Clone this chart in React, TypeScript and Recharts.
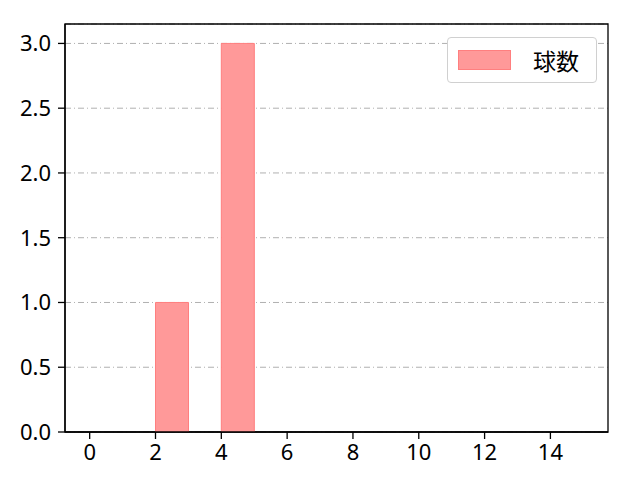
import React from "react"
import {
  ComposedChart, Bar, XAxis, YAxis, CartesianGrid, ReferenceArea,
} from "recharts"

const BIN_CENTERS = [0.5, 1.5, 2.5, 3.5, 4.5, 5.5, 6.5, 7.5, 8.5, 9.5, 10.5, 11.5, 12.5, 13.5, 14.5]
const COUNTS = [0, 0, 1, 0, 3, 0, 0, 0, 0, 0, 0, 0, 0, 0, 0]
const X_TICKS = [0, 2, 4, 6, 8, 10, 12, 14]
const Y_TICKS = [0, 0.5, 1, 1.5, 2, 2.5, 3]
const X_DOMAIN = [-0.75, 15.75]
const Y_DOMAIN = [0, 3.15]
const SERIES_NAME = "球数"

const FILL = "#ff9999"
const EDGE = "#ff7f7f"
const FONT = "'Noto Sans', 'Noto Sans CJK JP', sans-serif"

const chartData = BIN_CENTERS.map((x, i) => ({ x, count: COUNTS[i] }))

function LegendBox() {
  return (
    <div
      style={{
        position: "absolute", left: 447, top: 37,
        display: "flex", alignItems: "center", width: 150, height: 46,
        border: "1px solid #d0d0d0", borderRadius: 4, background: "#fff",
        boxSizing: "border-box", fontFamily: "'Noto Sans CJK JP', sans-serif", fontSize: 23,
      }}
    >
      <span
        style={{
          display: "inline-block", width: 53, height: 20, marginLeft: 10,
          background: FILL, border: `1px solid ${EDGE}`, boxSizing: "border-box",
        }}
      />
      <span style={{ marginLeft: 22, color: "#000", lineHeight: 1 }}>{SERIES_NAME}</span>
    </div>
  )
}

export default function App() {
  const tick = { fontSize: 22, fill: "#000", fontFamily: FONT }
  return (
    <div style={{ position: "relative", margin: -8, width: 640, height: 480, background: "#fff" }}>
      <ComposedChart
        width={640}
        height={480}
        data={chartData}
        margin={{ top: 24, right: 32, left: 0, bottom: 0 }}
        barCategoryGap={0}
        barGap={0}
      >
        <CartesianGrid
          horizontal
          vertical={false}
          stroke="#b0b0b0"
          strokeDasharray="6 3 1 3"
        />
        <XAxis
          dataKey="x"
          type="number"
          domain={X_DOMAIN}
          ticks={X_TICKS}
          allowDataOverflow
          height={48}
          tick={tick}
          tickSize={7}
          tickMargin={5}
          tickLine={{ stroke: "#000", strokeWidth: 1.3 }}
          axisLine={{ stroke: "#000", strokeWidth: 1.3 }}
        />
        <YAxis
          type="number"
          domain={Y_DOMAIN}
          ticks={Y_TICKS}
          allowDataOverflow
          width={65}
          tick={tick}
          tickSize={7}
          tickMargin={7}
          tickLine={{ stroke: "#000", strokeWidth: 1.3 }}
          tickFormatter={(v: number) => v.toFixed(1)}
          axisLine={{ stroke: "#000", strokeWidth: 1.3 }}
        />
        <Bar
          dataKey="count"
          name={SERIES_NAME}
          fill={FILL}
          stroke={EDGE}
          strokeWidth={1}
          isAnimationActive={false}
        />
        <ReferenceArea
          x1={X_DOMAIN[0]}
          x2={X_DOMAIN[1]}
          y1={Y_DOMAIN[0]}
          y2={Y_DOMAIN[1]}
          fill="none"
          fillOpacity={0}
          stroke="#000"
          strokeWidth={1.3}
          ifOverflow="visible"
        />
      </ComposedChart>
      <LegendBox />
    </div>
  )
}
